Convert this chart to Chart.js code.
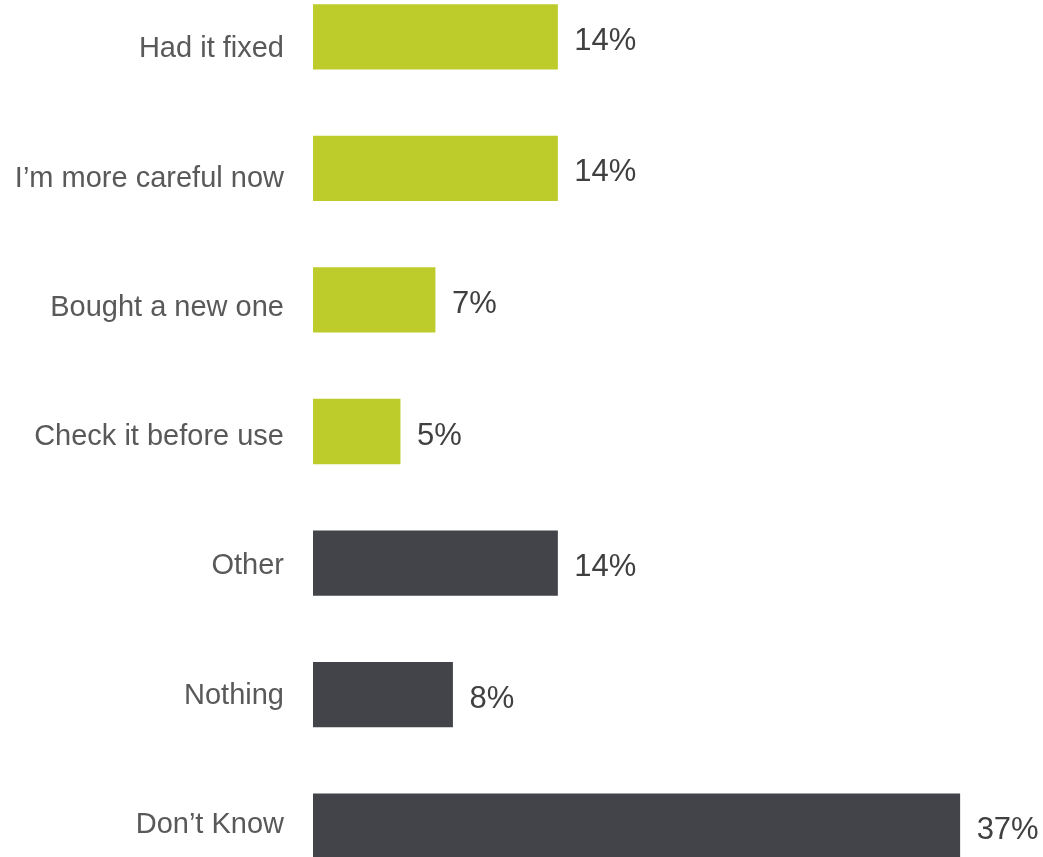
<!DOCTYPE html>
<html>
<head>
<meta charset="utf-8">
<script src="https://cdn.jsdelivr.net/npm/chart.js@4.4.1/dist/chart.umd.min.js"></script>
<style>
  html, body { margin: 0; padding: 0; background: #fff; overflow: hidden; width: 1043px; height: 857px; }
  #wrap { position: absolute; left: 0; top: -29px; }
</style>
</head>
<body>
<div id="wrap"><canvas id="actionChart" width="1043" height="921"></canvas></div>
<script>
const categories = ['Had it fixed', 'I\u2019m more careful now', 'Bought a new one', 'Check it before use', 'Other', 'Nothing', 'Don\u2019t Know'];
const shares = [14, 14, 7, 5, 14, 8, 37];
const barColors = ['#bdcb2b', '#bdcb2b', '#bdcb2b', '#bdcb2b', '#434449', '#434449', '#434449'];

const FONT = "'Liberation Sans', Arial, sans-serif";

// percentage written just past the end of every bar
const valueLabels = {
    id: 'valueLabels',
    afterDatasetsDraw(chart) {
        const ctx = chart.ctx;
        const meta = chart.getDatasetMeta(0);
        ctx.save();
        ctx.font = '31px ' + FONT;
        ctx.fillStyle = '#404040';
        ctx.textAlign = 'left';
        ctx.textBaseline = 'middle';
        meta.data.forEach((bar, i) => {
            ctx.fillText(shares[i] + '%', bar.x + 16.5, bar.y + 4.5);
        });
        ctx.restore();
    }
};

const ctx = document.getElementById('actionChart').getContext('2d');
const actionChart = new Chart(ctx, {
    type: 'bar',
    data: {
        labels: categories,
        datasets: [{
            data: shares,
            backgroundColor: barColors,
            borderWidth: 0,
            categoryPercentage: 1,
            barPercentage: 0.496
        }]
    },
    options: {
        indexAxis: 'y',
        responsive: false,
        animation: false,
        devicePixelRatio: 1,
        layout: { padding: { left: 0, right: 30.4, top: 0, bottom: 0 } },
        plugins: { legend: { display: false }, tooltip: { enabled: false } },
        scales: {
            x: { display: false, min: 0, max: 40 },
            y: { display: false },
            // category names sit on their own slightly tighter spacing
            names: {
                type: 'linear',
                position: 'left',
                reverse: true,
                offset: false,
                bounds: 'data',
                min: -0.605,
                max: 6.518,
                grid: { display: false, drawTicks: false, offset: false },
                border: { display: false },
                afterBuildTicks: (scale) => {
                    scale.ticks = categories.map((_, i) => ({ value: i }));
                },
                afterFit: (scale) => {
                    scale.width = 313;
                    scale.paddingTop = 0;
                    scale.paddingBottom = 0;
                },
                ticks: {
                    padding: 29,
                    color: '#595959',
                    font: { family: FONT, size: 29 },
                    callback: (v) => categories[v]
                }
            }
        }
    },
    plugins: [valueLabels]
});
</script>
</body>
</html>
